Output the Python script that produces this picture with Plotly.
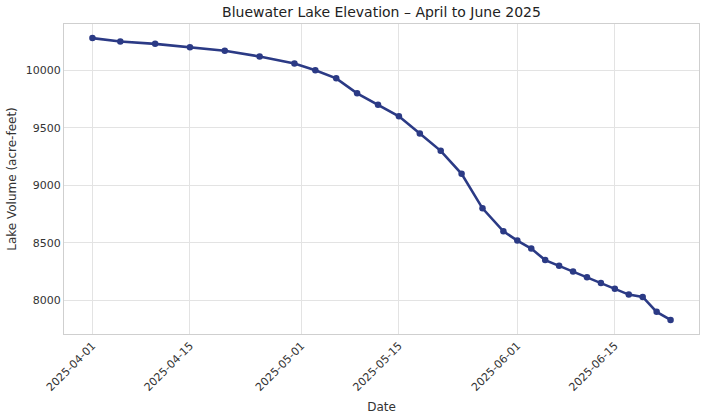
import plotly.graph_objects as go

# lake volume readings (acre-feet)
dates = [
    "2025-04-01", "2025-04-05", "2025-04-10", "2025-04-15", "2025-04-20",
    "2025-04-25", "2025-04-30", "2025-05-03", "2025-05-06", "2025-05-09",
    "2025-05-12", "2025-05-15", "2025-05-18", "2025-05-21", "2025-05-24",
    "2025-05-27", "2025-05-30", "2025-06-01", "2025-06-03", "2025-06-05",
    "2025-06-07", "2025-06-09", "2025-06-11", "2025-06-13", "2025-06-15",
    "2025-06-17", "2025-06-19", "2025-06-21", "2025-06-23",
]
volume = [
    10280, 10250, 10230, 10200, 10170,
    10120, 10060, 10000, 9930, 9800,
    9700, 9600, 9450, 9300, 9100,
    8800, 8600, 8520, 8450, 8350,
    8300, 8250, 8200, 8150, 8100,
    8050, 8030, 7900, 7830,
]
x_ticks = ["2025-04-01", "2025-04-15", "2025-05-01", "2025-05-15", "2025-06-01", "2025-06-15"]
y_ticks = [8000, 8500, 9000, 9500, 10000]

line_col = "#2b3a85"
grid_col = "#e3e3e3"

W, H = 706, 420

fig = go.Figure()
fig.add_trace(go.Scatter(
    x=dates, y=volume, mode="lines+markers",
    line=dict(color=line_col, width=2.6),
    marker=dict(color=line_col, size=6.5),
    showlegend=False,
))

fig.update_layout(
    width=W, height=H,
    margin=dict(l=64, r=7, t=24, b=86),
    paper_bgcolor="white", plot_bgcolor="white",
    font=dict(family="DejaVu Sans", color="#333333", size=11),
    title=dict(text="Bluewater Lake Elevation – April to June 2025",
               xref="paper", x=0.5, xanchor="center",
               yref="container", y=1 - 12.5 / H, yanchor="middle",
               font=dict(size=14, color="#222222")),
)
fig.update_xaxes(
    type="date", automargin=False,
    range=["2025-03-27 22:00", "2025-06-27 02:00"],
    tickvals=x_ticks, ticktext=x_ticks, tickangle=-45,
    showgrid=True, gridcolor=grid_col, gridwidth=1,
    showline=True, linecolor="#cfcfcf", linewidth=1, mirror=True,
    ticks="", zeroline=False,
    title=dict(text="Date", font=dict(size=12), standoff=9),
)
fig.update_yaxes(
    automargin=False,
    range=[7707.5, 10402.5],
    tickvals=y_ticks, ticktext=[str(v) for v in y_ticks],
    showgrid=True, gridcolor=grid_col, gridwidth=1,
    showline=True, linecolor="#cfcfcf", linewidth=1, mirror=True,
    ticks="", zeroline=False,
    title=dict(text="Lake Volume (acre-feet)", font=dict(size=12), standoff=6),
)

# drop the default 8px body margin so the figure fills the window
fig.write_html("out.html", config={"displayModeBar": False},
               post_script="document.body.style.margin='0';")
